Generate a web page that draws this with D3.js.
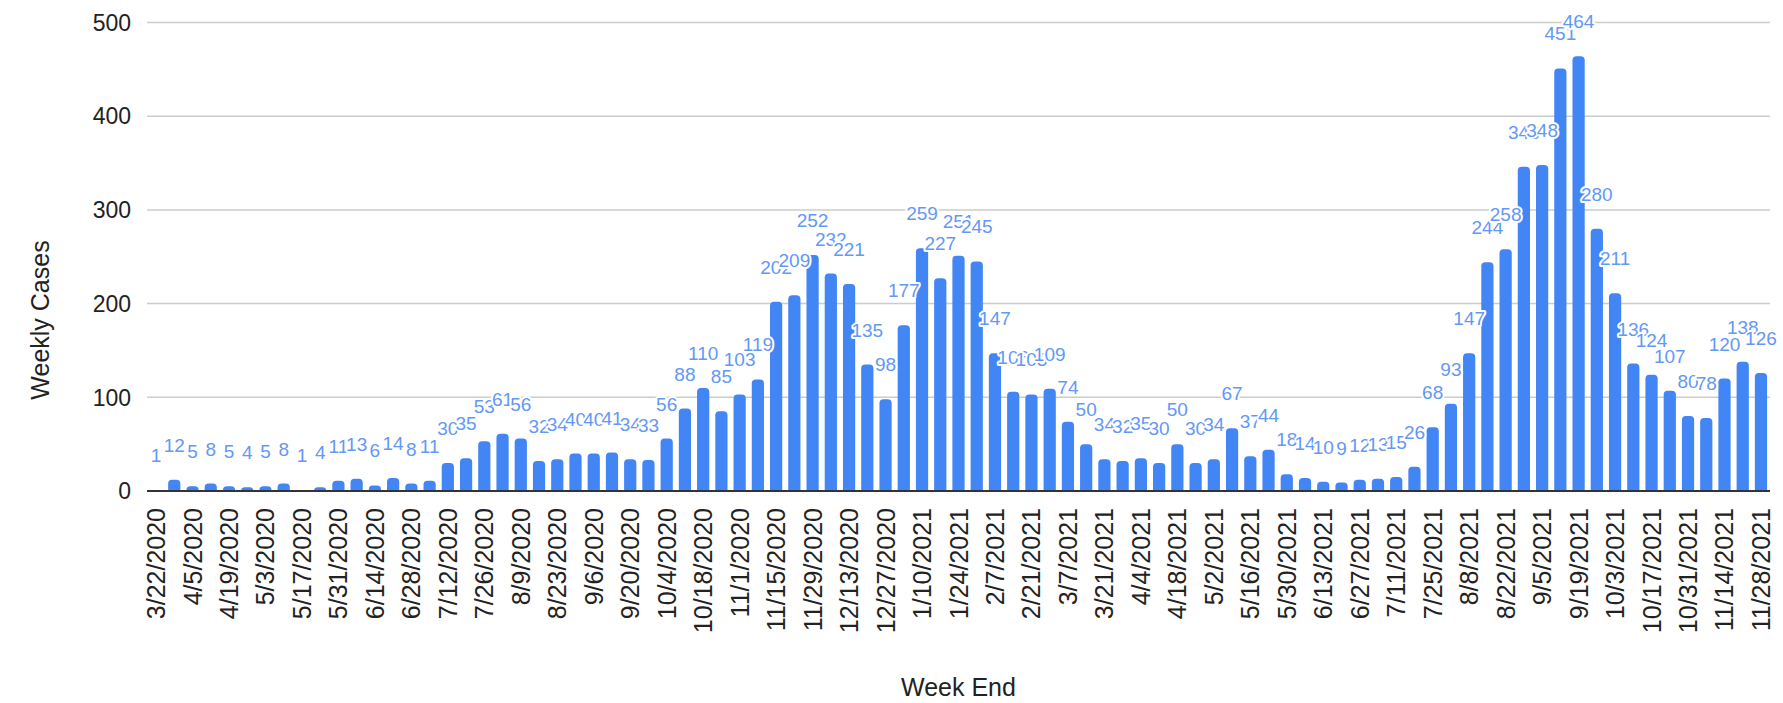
<!DOCTYPE html>
<html>
<head>
<meta charset="utf-8">
<script src="https://cdn.jsdelivr.net/npm/d3@7"></script>
<style>
  body { margin: 0; background: #fff; }
  text { font-family: Arial, "Liberation Sans", sans-serif; }
</style>
</head>
<body>
<svg id="chart" width="1783" height="703"></svg>
<script>
// week ending dates
const weeks = [
  "3/22/2020","3/29/2020","4/5/2020","4/12/2020","4/19/2020","4/26/2020","5/3/2020","5/10/2020",
  "5/17/2020","5/24/2020","5/31/2020","6/7/2020","6/14/2020","6/21/2020","6/28/2020","7/5/2020",
  "7/12/2020","7/19/2020","7/26/2020","8/2/2020","8/9/2020","8/16/2020","8/23/2020","8/30/2020",
  "9/6/2020","9/13/2020","9/20/2020","9/27/2020","10/4/2020","10/11/2020","10/18/2020","10/25/2020",
  "11/1/2020","11/8/2020","11/15/2020","11/22/2020","11/29/2020","12/6/2020","12/13/2020","12/20/2020",
  "12/27/2020","1/3/2021","1/10/2021","1/17/2021","1/24/2021","1/31/2021","2/7/2021","2/14/2021",
  "2/21/2021","2/28/2021","3/7/2021","3/14/2021","3/21/2021","3/28/2021","4/4/2021","4/11/2021",
  "4/18/2021","4/25/2021","5/2/2021","5/9/2021","5/16/2021","5/23/2021","5/30/2021","6/6/2021",
  "6/13/2021","6/20/2021","6/27/2021","7/4/2021","7/11/2021","7/18/2021","7/25/2021","8/1/2021",
  "8/8/2021","8/15/2021","8/22/2021","8/29/2021","9/5/2021","9/12/2021","9/19/2021","9/26/2021",
  "10/3/2021","10/10/2021","10/17/2021","10/24/2021","10/31/2021","11/7/2021","11/14/2021","11/21/2021",
  "11/28/2021"
];

const cases = [
  1, 12, 5, 8, 5, 4, 5, 8, 1, 4, 11, 13, 6, 14, 8, 11,
  30, 35, 53, 61, 56, 32, 34, 40, 40, 41, 34, 33, 56, 88, 110, 85,
  103, 119, 202, 209, 252, 232, 221, 135, 98, 177, 259, 227, 251, 245, 147, 106,
  103, 109, 74, 50, 34, 32, 35, 30, 50, 30, 34, 67, 37, 44, 18, 14,
  10, 9, 12, 13, 15, 26, 68, 93, 147, 244, 258, 346, 348, 451, 464, 280,
  211, 136, 124, 107, 80, 78, 120, 138, 126
];

const yTicks = [0, 100, 200, 300, 400, 500];
// every other week gets a tick label
const xTickLabels = weeks.filter((w, i) => i % 2 === 0);

const svg = d3.select("#chart");

const plotLeft = 147, plotRight = 1770, plotTop = 22.5, plotBottom = 491;

const x = d3.scaleBand()
  .domain(weeks)
  .range([plotLeft, plotRight])
  .paddingInner(0.33)
  .paddingOuter(0.16);

const y = d3.scaleLinear()
  .domain([0, 500])
  .range([plotBottom, plotTop]);

svg.append("rect").attr("width", 1783).attr("height", 703).attr("fill", "#fff");

// gridlines
svg.append("g")
  .selectAll("line")
  .data(yTicks.filter(t => t > 0))
  .enter()
  .append("line")
  .attr("x1", plotLeft)
  .attr("x2", plotRight)
  .attr("y1", d => y(d))
  .attr("y2", d => y(d))
  .attr("stroke", "#cccccc")
  .attr("stroke-width", 1.5);

// y tick labels
svg.append("g")
  .selectAll("text")
  .data(yTicks)
  .enter()
  .append("text")
  .attr("x", 131)
  .attr("y", d => y(d))
  .attr("dy", "0.36em")
  .attr("text-anchor", "end")
  .attr("font-size", 23)
  .attr("fill", "#222")
  .text(d => d);

// bars with rounded tops
function barPath(d, i) {
  const x0 = x(weeks[i]), w = x.bandwidth();
  const y0 = y(d), h = plotBottom - y0;
  const r = Math.min(4, h, w / 2);
  return `M${x0},${plotBottom} V${y0 + r} Q${x0},${y0} ${x0 + r},${y0} H${x0 + w - r} Q${x0 + w},${y0} ${x0 + w},${y0 + r} V${plotBottom} Z`;
}

svg.append("g")
  .selectAll("path")
  .data(cases)
  .enter()
  .append("path")
  .attr("d", barPath)
  .attr("fill", "#4285f4");

// baseline
svg.append("line")
  .attr("x1", plotLeft)
  .attr("x2", plotRight)
  .attr("y1", y(0))
  .attr("y2", y(0))
  .attr("stroke", "#333")
  .attr("stroke-width", 2);

// data labels
svg.append("g")
  .selectAll("text")
  .data(cases)
  .enter()
  .append("text")
  .attr("x", (d, i) => x(weeks[i]) + x.bandwidth() / 2)
  .attr("y", d => y(d) - 28)
  .attr("text-anchor", "middle")
  .attr("font-size", 19)
  .attr("fill", "#6398f5")
  .attr("stroke", "#fff")
  .attr("stroke-width", 4)
  .attr("stroke-linejoin", "round")
  .attr("paint-order", "stroke")
  .text(d => d);

// x tick labels, rotated
svg.append("g")
  .selectAll("text")
  .data(xTickLabels)
  .enter()
  .append("text")
  .attr("transform", d => `translate(${x(d) + x.bandwidth() / 2},508) rotate(-90)`)
  .attr("dy", "0.36em")
  .attr("text-anchor", "end")
  .attr("font-size", 25)
  .attr("fill", "#222")
  .text(d => d);

// axis titles
svg.append("text")
  .attr("transform", "translate(40,320) rotate(-90)")
  .attr("dy", "0.36em")
  .attr("text-anchor", "middle")
  .attr("font-size", 25)
  .attr("fill", "#222")
  .text("Weekly Cases");

svg.append("text")
  .attr("x", (plotLeft + plotRight) / 2)
  .attr("y", 696)
  .attr("text-anchor", "middle")
  .attr("font-size", 25)
  .attr("fill", "#222")
  .text("Week End");
</script>
</body>
</html>
